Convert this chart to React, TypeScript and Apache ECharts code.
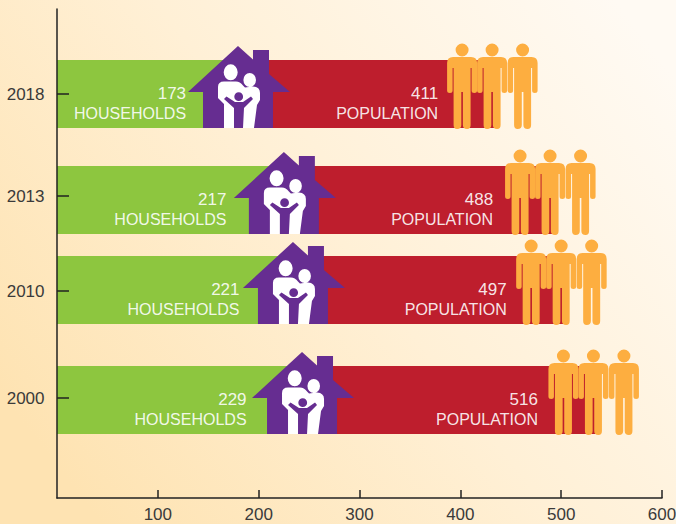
import React, { useEffect, useRef } from "react";
import * as echarts from "echarts";

const years = ["2018", "2013", "2010", "2000"];
const households = [173, 217, 221, 229];
const population = [411, 488, 497, 516];
// Red band end as seen in the picture (it runs on behind the figures)
const redBandEnd = [434, 492, 504, 536];
// Vertical scale: rows are unevenly spaced in the picture
const rowSlots = [85, 191, 281, 391];
const yearTickSlots = [85, 187, 282, 389];
const xTicks = [100, 200, 300, 400, 500, 600];
// Icon and text anchors on the x scale
const houseAt = [179.5, 225, 234, 243];
const peopleAt = [431.5, 489, 500, 532];
const householdTextEnd = [128, 168, 181, 188];
const populationTextEnd = [378, 432.5, 446, 477];

const BAND = 68;
const GREEN = "#8DC63F";
const RED = "#BE1E2D";
const PURPLE = "#662D91";
const ORANGE = "#FDAE40";
const FONT = '16px "Liberation Sans", Arial, sans-serif';
const NUMBER_FONT = '17px "Liberation Sans", Arial, sans-serif';

const circle = (cx: number, cy: number, r: number, ry = r) =>
  `M${cx - r},${cy}A${r},${ry},0,1,1,${cx + r},${cy}A${r},${ry},0,1,1,${cx - r},${cy}Z`;

echarts.graphic.registerShape(
  "houseBody",
  echarts.graphic.extendPath(
    "M0,-48L15,-34.5L15,-44L31,-44L31,-20L52,-2L35,-2L35,34L-35,34L-35,-2L-50,-2Z",
    {}
  )
);
echarts.graphic.registerShape(
  "familyWhite",
  echarts.graphic.extendPath(
    circle(-7.3, -21.7, 7, 8) +
      circle(11.7, -14, 6.3, 7) +
      "M-20,-7Q-20,-12.5 -14,-12.5L-2,-12.5Q2,-12.5 5,-8.5L7,-6.5L15,-7.5Q22,-7 22,-1L22,6L19,11L16,34L-14,34L-14,10L-20,4Z",
    {}
  )
);
echarts.graphic.registerShape(
  "familyChild",
  echarts.graphic.extendPath(
    circle(0.7, 2.7, 4.4) +
      "M-14,5L-11.5,2.5L-3,8L5,8L13,2.5L15,5L6,14L5,34L-4,34L-4,14Z",
    {}
  )
);
echarts.graphic.registerShape(
  "person",
  echarts.graphic.extendPath(
    circle(0, -44, 6.5) +
      "M-15,-31Q-15,-37 -9,-37L9,-37Q15,-37 15,-31L15,-3.5Q15,-1 12.2,-1Q9.5,-1 9.5,-3.5L9.5,-26L8.5,-26L8.5,31Q8.5,35 5,35Q0.8,35 0.8,31L0.8,-2L-0.8,-2L-0.8,31Q-0.8,35 -5,35Q-8.5,35 -8.5,31L-8.5,-26L-9.5,-26L-9.5,-3.5Q-9.5,-1 -12.2,-1Q-15,-1 -15,-3.5Z",
    {}
  )
);

const bandSeries = (name: string, ends: number[], fill: string, z: number) => ({
  type: "custom",
  name,
  z,
  silent: true,
  clip: false,
  data: ends.map((v, i) => [v, rowSlots[i]]),
  encode: { x: 0, y: 1 },
  renderItem: (_: any, api: any) => {
    const start = api.coord([0, api.value(1)]);
    const end = api.coord([api.value(0), api.value(1)]);
    const h = api.size([0, BAND])[1];
    return {
      type: "rect",
      shape: { x: start[0], y: start[1] - h / 2, width: end[0] - start[0], height: h },
      style: { fill },
    };
  },
});

const App = () => {
  const ref = useRef<HTMLDivElement>(null);
  useEffect(() => {
    document.body.style.margin = "0";
    const chart = echarts.init(ref.current!, null, { renderer: "svg" });
    chart.setOption({
      animation: false,
      backgroundColor: new echarts.graphic.LinearGradient(0, 0.75, 1, 0.15, [
        { offset: 0, color: "#FEE3B2" },
        { offset: 0.5, color: "#FFF0D6" },
        { offset: 1, color: "#FFFAF3" },
      ]),
      grid: { left: 57, right: 14, top: 9, bottom: 26, outerBoundsMode: "none" },
      xAxis: {
        type: "value",
        min: 0,
        max: 600,
        interval: 100,
        z: 10,
        splitLine: { show: false },
        axisLine: { show: true, onZero: false, lineStyle: { color: "#222", width: 1.5 } },
        axisTick: { show: true, inside: true, length: 8, customValues: xTicks, lineStyle: { color: "#222", width: 1.5 } },
        axisLabel: { customValues: xTicks, fontSize: 17, color: "#3a3a3a", margin: 8, fontFamily: "Liberation Sans" },
      },
      yAxis: {
        type: "value",
        inverse: true,
        min: 0,
        max: 489,
        z: 10,
        splitLine: { show: false },
        axisLine: { show: true, onZero: false, lineStyle: { color: "#222", width: 1.5 } },
        axisTick: { show: true, inside: true, length: 12, customValues: yearTickSlots, lineStyle: { color: "#222", width: 1.5 } },
        axisLabel: {
          customValues: yearTickSlots,
          fontSize: 17,
          color: "#3a3a3a",
          margin: 12.5,
          fontFamily: "Liberation Sans",
          formatter: (v: number) => years[yearTickSlots.indexOf(v)] ?? "",
        },
      },
      series: [
        bandSeries("Population band", redBandEnd, RED, 2),
        bandSeries("Households band", households, GREEN, 3),
        {
          type: "custom",
          name: "Houses",
          z: 4,
          silent: true,
          clip: false,
          data: houseAt.map((v, i) => [v, rowSlots[i]]),
          encode: { x: 0, y: 1 },
          renderItem: (_: any, api: any) => {
            const [x, y] = api.coord([api.value(0), api.value(1)]);
            return {
              type: "group",
              x,
              y,
              children: [
                { type: "houseBody", style: { fill: PURPLE } },
                { type: "familyWhite", style: { fill: "#FFFFFF" } },
                { type: "familyChild", style: { fill: PURPLE } },
              ],
            };
          },
        },
        {
          type: "custom",
          name: "People",
          z: 4,
          silent: true,
          clip: false,
          data: peopleAt.map((v, i) => [v, rowSlots[i]]),
          encode: { x: 0, y: 1 },
          renderItem: (_: any, api: any) => {
            const [x, y] = api.coord([api.value(0), api.value(1)]);
            return {
              type: "group",
              x,
              y,
              children: [-30, 0, 30.5].map((dx) => ({
                type: "person",
                x: dx,
                style: { fill: ORANGE },
              })),
            };
          },
        },
        {
          type: "custom",
          name: "Labels",
          z: 5,
          silent: true,
          clip: false,
          data: rowSlots.map((s, i) => [householdTextEnd[i], s, populationTextEnd[i], households[i], population[i]]),
          encode: { x: 0, y: 1 },
          renderItem: (_: any, api: any) => {
            const slot = api.value(1);
            const text = (xv: number, dy: number, str: string, font: string) => {
              const [x, y] = api.coord([xv, slot]);
              return {
                type: "text",
                style: {
                  text: str,
                  x,
                  y: y + dy,
                  fill: "rgba(255,255,255,0.9)",
                  font,
                  align: "right",
                  verticalAlign: "middle",
                },
              };
            };
            return {
              type: "group",
              children: [
                text(api.value(0), -0.5, String(api.value(3)), NUMBER_FONT),
                text(api.value(0), 19.5, "HOUSEHOLDS", FONT),
                text(api.value(2), -0.5, String(api.value(4)), NUMBER_FONT),
                text(api.value(2), 19.5, "POPULATION", FONT),
              ],
            };
          },
        },
      ],
    });
    return () => chart.dispose();
  }, []);
  return <div ref={ref} style={{ width: 676, height: 524 }} />;
};

export default App;
